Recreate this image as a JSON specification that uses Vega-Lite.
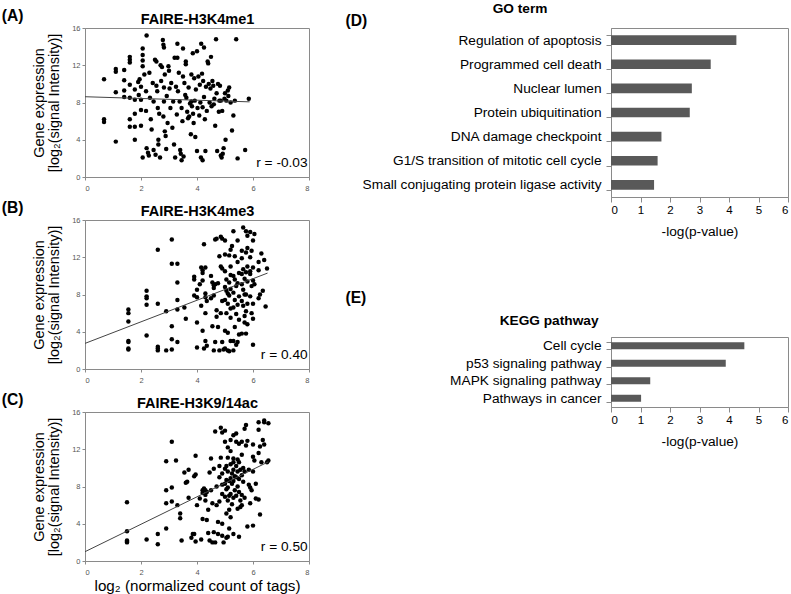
{
  "$schema": "https://vega.github.io/schema/vega-lite/v6.json",
  "padding": {"left": 0, "top": 0, "right": 0, "bottom": 0},
  "config": {
    "font": "Liberation Sans",
    "view": {"stroke": "#8a8a8a", "strokeWidth": 1},
    "axis": {"grid": false, "domainColor": "#8a8a8a", "tickColor": "#8a8a8a", "labelColor": "#000", "titleColor": "#000", "titleFontWeight": "normal"},
    "axisY": {"labelOverlap": false}
  },
  "datasets": {
    "A": [
      {"x":0.68,"y":10.5},{"x":0.68,"y":6.2},{"x":0.68,"y":5.9},
      {"x":1.1,"y":11.6},{"x":1.1,"y":11.3},{"x":1.1,"y":9.1},{"x":1.1,"y":3.8},
      {"x":1.4,"y":11.5},{"x":1.4,"y":10.4},{"x":1.4,"y":9.3},{"x":1.4,"y":8.6},
      {"x":1.6,"y":12.9},{"x":1.6,"y":12.6},{"x":1.6,"y":12.3},{"x":1.6,"y":9.9},{"x":1.6,"y":8.5},{"x":1.6,"y":6.2},{"x":1.6,"y":5.4},
      {"x":1.78,"y":9.4},{"x":1.78,"y":8.3},{"x":1.78,"y":6.8},{"x":1.78,"y":5.4},{"x":1.78,"y":4.0},
      {"x":1.9,"y":10.2},{"x":1.92,"y":8.8},{"x":1.95,"y":10.5},{"x":2.0,"y":9.7},{"x":2.0,"y":8.3},{"x":2.0,"y":7.2},{"x":2.0,"y":5.5},
      {"x":2.06,"y":13.8},{"x":2.06,"y":13.1},{"x":2.06,"y":12.5},{"x":2.06,"y":11.9},{"x":2.06,"y":2.1},
      {"x":2.12,"y":11.0},{"x":2.2,"y":15.2},{"x":2.18,"y":9.2},{"x":2.18,"y":7.1},{"x":2.2,"y":3.1},{"x":2.25,"y":2.6},{"x":2.28,"y":2.3},
      {"x":2.3,"y":11.2},{"x":2.32,"y":8.5},{"x":2.35,"y":6.2},{"x":2.38,"y":5.1},{"x":2.42,"y":10.1},{"x":2.45,"y":8.1},{"x":2.45,"y":2.9},
      {"x":2.5,"y":12.6},{"x":2.52,"y":2.4},{"x":2.55,"y":12.4},{"x":2.55,"y":9.8},{"x":2.58,"y":9.2},{"x":2.6,"y":7.4},{"x":2.62,"y":4.0},{"x":2.62,"y":3.5},
      {"x":2.65,"y":6.8},{"x":2.68,"y":2.1},{"x":2.7,"y":12.0},{"x":2.72,"y":10.3},{"x":2.75,"y":11.8},{"x":2.78,"y":14.7},{"x":2.8,"y":14.2},{"x":2.82,"y":13.9},
      {"x":2.8,"y":6.5},{"x":2.82,"y":9.6},{"x":2.82,"y":8.1},{"x":2.85,"y":4.9},{"x":2.85,"y":11.0},{"x":2.88,"y":4.4},{"x":2.9,"y":3.0},{"x":2.92,"y":8.7},
      {"x":2.95,"y":5.8},{"x":2.98,"y":11.9},{"x":3.0,"y":11.4},{"x":3.02,"y":9.5},{"x":3.05,"y":7.4},{"x":3.08,"y":10.1},{"x":3.12,"y":5.3},{"x":3.15,"y":8.1},
      {"x":3.18,"y":3.5},{"x":3.2,"y":12.8},{"x":3.22,"y":2.1},{"x":3.25,"y":9.7},{"x":3.28,"y":6.7},{"x":3.3,"y":12.8},{"x":3.3,"y":14.3},{"x":3.32,"y":9.2},
      {"x":3.35,"y":11.2},{"x":3.38,"y":8.1},{"x":3.4,"y":2.9},{"x":3.42,"y":2.5},{"x":3.45,"y":7.4},{"x":3.45,"y":1.8},{"x":3.48,"y":6.0},{"x":3.5,"y":13.8},
      {"x":3.5,"y":10.8},{"x":3.52,"y":2.2},{"x":3.55,"y":10.1},{"x":3.58,"y":8.8},{"x":3.6,"y":12.4},{"x":3.6,"y":12.1},{"x":3.62,"y":8.5},{"x":3.65,"y":7.0},
      {"x":3.68,"y":6.3},{"x":3.7,"y":9.6},{"x":3.72,"y":6.5},{"x":3.75,"y":7.9},{"x":3.78,"y":4.6},{"x":3.8,"y":8.1},{"x":3.8,"y":11.0},{"x":3.82,"y":7.6},
      {"x":3.85,"y":13.3},{"x":3.86,"y":6.8},{"x":3.88,"y":5.8},{"x":3.9,"y":10.6},{"x":3.92,"y":8.2},{"x":3.94,"y":4.3},{"x":3.96,"y":9.4},{"x":4.0,"y":13.5},
      {"x":4.0,"y":2.8},{"x":4.02,"y":7.4},{"x":4.05,"y":10.8},{"x":4.08,"y":6.6},{"x":4.1,"y":9.9},{"x":4.12,"y":8.0},{"x":4.14,"y":2.1},{"x":4.15,"y":14.3},
      {"x":4.18,"y":11.1},{"x":4.2,"y":1.8},{"x":4.2,"y":7.5},{"x":4.22,"y":10.3},{"x":4.25,"y":13.9},{"x":4.25,"y":8.6},{"x":4.28,"y":6.2},{"x":4.3,"y":2.8},
      {"x":4.32,"y":9.7},{"x":4.35,"y":7.1},{"x":4.38,"y":12.4},{"x":4.4,"y":12.2},{"x":4.42,"y":10.0},{"x":4.45,"y":8.0},{"x":4.48,"y":9.5},{"x":4.5,"y":12.9},
      {"x":4.52,"y":7.6},{"x":4.55,"y":10.3},{"x":4.58,"y":9.8},{"x":4.6,"y":7.8},{"x":4.62,"y":8.4},{"x":4.65,"y":5.5},{"x":4.68,"y":14.8},{"x":4.7,"y":9.0},
      {"x":4.72,"y":2.8},{"x":4.75,"y":10.0},{"x":4.78,"y":7.0},{"x":4.8,"y":8.2},{"x":4.82,"y":9.8},{"x":4.85,"y":2.3},{"x":4.85,"y":8.2},{"x":4.88,"y":2.1},
      {"x":4.9,"y":7.1},{"x":4.92,"y":2.5},{"x":4.95,"y":3.1},{"x":4.98,"y":8.4},{"x":5.0,"y":9.0},{"x":5.02,"y":4.0},{"x":5.05,"y":8.2},{"x":5.1,"y":9.3},
      {"x":5.12,"y":8.7},{"x":5.15,"y":9.6},{"x":5.2,"y":8.0},{"x":5.25,"y":5.0},{"x":5.3,"y":6.6},{"x":5.35,"y":8.2},{"x":5.4,"y":14.8},{"x":5.45,"y":2.0},
      {"x":5.72,"y":2.9},{"x":5.85,"y":8.4}
    ],
    "B": [
      {"x":1.55,"y":6.4},{"x":1.55,"y":6.0},{"x":1.55,"y":5.1},{"x":1.55,"y":3.0},{"x":1.55,"y":2.9},{"x":1.55,"y":2.2},{"x":1.55,"y":2.1},
      {"x":2.2,"y":8.4},{"x":2.2,"y":7.8},{"x":2.2,"y":7.6},{"x":2.2,"y":6.9},{"x":2.2,"y":3.6},
      {"x":2.6,"y":12.8},{"x":2.6,"y":7.0},{"x":2.6,"y":2.4},{"x":2.6,"y":2.2},{"x":2.6,"y":2.0},
      {"x":2.9,"y":6.2},{"x":2.9,"y":2.0},
      {"x":3.1,"y":13.9},{"x":3.1,"y":11.3},{"x":3.1,"y":4.6},{"x":3.1,"y":3.2},{"x":3.1,"y":2.1},
      {"x":3.3,"y":11.3},{"x":3.3,"y":9.3},{"x":3.3,"y":7.4},{"x":3.3,"y":6.4},{"x":3.3,"y":2.9},
      {"x":3.6,"y":5.4},{"x":3.55,"y":6.6},
      {"x":3.9,"y":9.9},{"x":3.9,"y":9.6},{"x":3.9,"y":7.9},
      {"x":4.0,"y":8.5},{"x":4.0,"y":7.7},{"x":4.0,"y":5.0},{"x":4.0,"y":2.3},
      {"x":4.15,"y":10.9},{"x":4.2,"y":10.6},{"x":4.3,"y":10.9},{"x":4.2,"y":10.3},{"x":4.2,"y":9.5},{"x":4.3,"y":8.1},{"x":4.3,"y":7.7},{"x":4.1,"y":9.1},
      {"x":4.15,"y":6.8},{"x":4.2,"y":4.1},{"x":4.25,"y":2.2},{"x":4.3,"y":6.0},{"x":4.35,"y":7.3},{"x":4.25,"y":13.4},{"x":4.3,"y":3.0},{"x":4.35,"y":2.5},
      {"x":4.5,"y":10.0},{"x":4.55,"y":9.3},{"x":4.6,"y":9.0},{"x":4.65,"y":9.1},{"x":4.6,"y":8.7},{"x":4.5,"y":7.6},{"x":4.6,"y":7.9},{"x":4.55,"y":4.6},
      {"x":4.65,"y":2.9},{"x":4.6,"y":2.0},{"x":4.7,"y":14.0},{"x":4.65,"y":13.9},{"x":4.75,"y":9.2},{"x":4.7,"y":6.3},{"x":4.7,"y":5.6},{"x":4.8,"y":12.1},
      {"x":4.75,"y":4.5},{"x":4.8,"y":2.0},{"x":4.85,"y":14.2},{"x":4.9,"y":14.0},{"x":4.9,"y":2.9},{"x":4.95,"y":2.1},{"x":4.9,"y":10.8},{"x":4.85,"y":11.0},
      {"x":4.9,"y":7.3},{"x":4.85,"y":6.0},
      {"x":5.0,"y":13.8},{"x":5.0,"y":12.3},{"x":5.0,"y":10.5},{"x":5.05,"y":9.6},{"x":5.0,"y":8.8},{"x":5.05,"y":8.4},{"x":5.1,"y":8.1},{"x":5.0,"y":7.4},
      {"x":5.1,"y":7.0},{"x":5.05,"y":6.0},{"x":5.0,"y":4.1},{"x":5.1,"y":3.9},{"x":5.0,"y":2.2},{"x":5.1,"y":2.0},{"x":5.15,"y":12.2},{"x":5.2,"y":11.0},
      {"x":5.2,"y":10.1},{"x":5.15,"y":9.3},{"x":5.2,"y":8.6},{"x":5.15,"y":7.9},{"x":5.2,"y":6.5},{"x":5.2,"y":5.5},{"x":5.2,"y":3.0},{"x":5.15,"y":1.9},
      {"x":5.2,"y":12.8},{"x":5.25,"y":13.2},
      {"x":5.3,"y":14.8},{"x":5.35,"y":12.1},{"x":5.3,"y":10.0},{"x":5.35,"y":9.6},{"x":5.3,"y":8.2},{"x":5.4,"y":8.9},{"x":5.35,"y":7.4},{"x":5.3,"y":6.6},
      {"x":5.4,"y":5.9},{"x":5.35,"y":4.5},{"x":5.3,"y":3.0},{"x":5.3,"y":2.0},{"x":5.45,"y":13.8},{"x":5.45,"y":11.5},{"x":5.5,"y":10.3},{"x":5.45,"y":9.2},
      {"x":5.5,"y":7.8},{"x":5.45,"y":6.9},{"x":5.5,"y":5.3},{"x":5.5,"y":3.7},{"x":5.4,"y":2.6},{"x":5.45,"y":2.9},
      {"x":5.65,"y":15.2},{"x":5.6,"y":12.7},{"x":5.6,"y":11.9},{"x":5.65,"y":10.7},{"x":5.6,"y":10.2},{"x":5.7,"y":9.7},{"x":5.6,"y":9.1},{"x":5.65,"y":8.5},
      {"x":5.7,"y":8.0},{"x":5.6,"y":7.3},{"x":5.65,"y":6.8},{"x":5.7,"y":5.0},{"x":5.6,"y":3.8},{"x":5.75,"y":14.8},{"x":5.8,"y":14.3},{"x":5.8,"y":13.0},
      {"x":5.75,"y":12.5},{"x":5.8,"y":11.0},{"x":5.75,"y":10.4},{"x":5.8,"y":9.4},{"x":5.75,"y":8.0},{"x":5.8,"y":7.0},{"x":5.75,"y":6.2},{"x":5.8,"y":4.8},
      {"x":5.75,"y":3.8},{"x":5.7,"y":5.7},
      {"x":5.9,"y":14.7},{"x":5.95,"y":12.7},{"x":5.9,"y":12.0},{"x":6.0,"y":10.9},{"x":5.9,"y":10.5},{"x":6.0,"y":9.5},{"x":5.95,"y":8.9},{"x":5.9,"y":7.8},
      {"x":6.0,"y":7.0},{"x":5.95,"y":6.0},{"x":6.0,"y":5.4},{"x":6.0,"y":2.6},{"x":6.05,"y":14.5},{"x":6.0,"y":13.8},{"x":5.9,"y":10.2},{"x":6.05,"y":9.1},
      {"x":6.2,"y":11.5},{"x":6.2,"y":10.6},{"x":6.25,"y":8.0},{"x":6.2,"y":7.6},{"x":6.35,"y":8.4},{"x":6.45,"y":6.7},{"x":6.5,"y":10.8},{"x":6.3,"y":12.4},
      {"x":6.4,"y":11.7}
    ],
    "C": [
      {"x":1.5,"y":6.3},{"x":1.5,"y":3.2},{"x":1.5,"y":2.2},{"x":1.5,"y":2.1},{"x":1.5,"y":2.0},
      {"x":2.2,"y":2.3},{"x":2.6,"y":2.9},{"x":2.6,"y":1.8},
      {"x":2.9,"y":10.7},{"x":2.9,"y":7.6},{"x":2.9,"y":6.2},{"x":2.9,"y":3.5},
      {"x":3.1,"y":12.8},{"x":3.1,"y":7.9},{"x":3.1,"y":6.4},
      {"x":3.25,"y":10.8},{"x":3.3,"y":6.0},
      {"x":3.4,"y":5.1},{"x":3.4,"y":4.6},{"x":3.45,"y":2.2},
      {"x":3.55,"y":9.5},{"x":3.6,"y":8.4},{"x":3.65,"y":8.5},{"x":3.7,"y":9.8},{"x":3.7,"y":6.8},
      {"x":3.8,"y":2.5},{"x":3.85,"y":2.9},{"x":3.9,"y":9.1},{"x":3.95,"y":9.3},{"x":3.95,"y":11.3},{"x":3.9,"y":2.9},{"x":3.95,"y":2.1},
      {"x":4.0,"y":6.0},{"x":4.1,"y":6.7},{"x":4.2,"y":7.3},{"x":4.2,"y":7.6},{"x":4.25,"y":7.8},{"x":4.3,"y":7.6},{"x":4.35,"y":7.4},{"x":4.3,"y":7.1},
      {"x":4.2,"y":4.5},{"x":4.15,"y":2.3},{"x":4.35,"y":4.4},{"x":4.3,"y":6.5},{"x":4.4,"y":5.5},{"x":4.4,"y":3.0},{"x":4.45,"y":2.2},{"x":4.5,"y":11.0},
      {"x":4.45,"y":9.5},{"x":4.5,"y":7.6},{"x":4.55,"y":6.2},{"x":4.55,"y":2.0},{"x":4.6,"y":3.1},{"x":4.65,"y":2.0},{"x":4.6,"y":9.9},{"x":4.65,"y":13.9},
      {"x":4.7,"y":8.0},{"x":4.7,"y":6.0},{"x":4.75,"y":4.2},{"x":4.75,"y":2.9},{"x":4.8,"y":10.2},{"x":4.8,"y":9.0},{"x":4.8,"y":6.4},{"x":4.85,"y":14.3},
      {"x":4.85,"y":11.1},{"x":4.9,"y":13.8},{"x":4.9,"y":9.4},{"x":4.9,"y":8.2},{"x":4.9,"y":7.2},{"x":4.9,"y":4.0},{"x":4.9,"y":2.7},{"x":4.95,"y":2.0},
      {"x":5.0,"y":14.0},{"x":5.0,"y":12.8},{"x":5.05,"y":10.2},{"x":5.0,"y":9.9},{"x":5.05,"y":8.7},{"x":5.0,"y":8.3},{"x":5.05,"y":7.7},{"x":5.0,"y":6.9},
      {"x":5.05,"y":5.1},{"x":5.05,"y":2.5},{"x":5.1,"y":2.6},{"x":5.1,"y":12.2},{"x":5.1,"y":11.1},{"x":5.1,"y":9.6},{"x":5.15,"y":8.6},{"x":5.1,"y":7.9},
      {"x":5.15,"y":7.0},{"x":5.1,"y":6.5},{"x":5.15,"y":5.5},{"x":5.15,"y":3.5},{"x":5.2,"y":13.0},{"x":5.2,"y":11.8},{"x":5.2,"y":10.4},{"x":5.25,"y":9.4},
      {"x":5.2,"y":8.9},{"x":5.25,"y":8.3},{"x":5.2,"y":7.2},{"x":5.25,"y":6.1},{"x":5.2,"y":4.7},{"x":5.3,"y":13.5},{"x":5.3,"y":11.0},{"x":5.3,"y":10.6},
      {"x":5.3,"y":9.8},{"x":5.35,"y":9.1},{"x":5.3,"y":8.6},{"x":5.35,"y":7.6},{"x":5.3,"y":6.8},{"x":5.3,"y":2.9},
      {"x":5.4,"y":13.7},{"x":5.4,"y":12.8},{"x":5.45,"y":10.9},{"x":5.4,"y":10.2},{"x":5.45,"y":9.6},{"x":5.4,"y":9.0},{"x":5.45,"y":8.0},{"x":5.4,"y":7.0},
      {"x":5.45,"y":5.6},{"x":5.5,"y":12.6},{"x":5.5,"y":10.6},{"x":5.55,"y":9.8},{"x":5.5,"y":8.8},{"x":5.5,"y":7.4},{"x":5.55,"y":6.5},{"x":5.55,"y":5.8},
      {"x":5.6,"y":12.8},{"x":5.6,"y":11.4},{"x":5.65,"y":10.0},{"x":5.6,"y":9.2},{"x":5.65,"y":8.5},{"x":5.6,"y":7.1},{"x":5.6,"y":6.0},{"x":5.5,"y":2.6},
      {"x":5.7,"y":9.6},{"x":5.75,"y":12.4},{"x":5.75,"y":14.6},{"x":5.7,"y":14.2},{"x":5.7,"y":6.8},
      {"x":5.8,"y":12.9},{"x":5.85,"y":8.2},{"x":5.85,"y":9.8},{"x":5.8,"y":3.7},{"x":5.9,"y":7.9},{"x":5.9,"y":6.2},{"x":5.95,"y":7.6},{"x":6.0,"y":12.5},
      {"x":6.0,"y":11.2},{"x":6.0,"y":3.8},{"x":6.1,"y":6.7},{"x":6.1,"y":8.3},{"x":6.05,"y":10.8},{"x":6.0,"y":9.6},
      {"x":6.2,"y":14.9},{"x":6.2,"y":14.1},{"x":6.25,"y":12.3},{"x":6.2,"y":11.6},{"x":6.2,"y":6.6},{"x":6.25,"y":5.0},{"x":6.3,"y":10.6},{"x":6.4,"y":15.1},
      {"x":6.4,"y":14.9},{"x":6.4,"y":12.5},{"x":6.35,"y":13.0},{"x":6.55,"y":14.8},{"x":6.55,"y":10.8},{"x":6.5,"y":10.6}
    ],
    "lineA": [{"x":0,"y":8.62},{"x":5.88,"y":8.07}],
    "lineB": [{"x":0,"y":2.75},{"x":6.52,"y":10.3}],
    "lineC": [{"x":0,"y":1.0},{"x":6.55,"y":10.65}],
    "go": [
      {"term":"Regulation of apoptosis","value":4.25},
      {"term":"Programmed cell death","value":3.38},
      {"term":"Nuclear lumen","value":2.74},
      {"term":"Protein ubiquitination","value":2.67},
      {"term":"DNA damage checkpoint","value":1.71},
      {"term":"G1/S transition of mitotic cell cycle","value":1.58},
      {"term":"Small conjugating protein ligase activity","value":1.46}
    ],
    "kegg": [
      {"term":"Cell cycle","value":4.52},
      {"term":"p53 signaling pathway","value":3.89},
      {"term":"MAPK signaling pathway","value":1.33},
      {"term":"Pathways in cancer","value":1.02}
    ]
  },
  "hconcat": [
    {
      "vconcat": [
        {
          "width": 224, "height": 149,
          "layer": [
            {"data": {"name": "A"}, "mark": {"type": "circle", "size": 20, "color": "#000", "opacity": 1},
             "encoding": {
               "x": {"field": "x", "type": "quantitative", "scale": {"domain": [0, 8], "nice": false}, "axis": {"values": [0,2,4,6,8], "labelFontSize": 7.5, "labelColor": "#555", "tickSize": 3, "labelPadding": 4, "labelOverlap": false, "title": null}},
               "y": {"field": "y", "type": "quantitative", "scale": {"domain": [0, 16], "nice": false}, "axis": {"values": [0,4,8,12,16], "labelFontSize": 7.5, "labelColor": "#555", "tickSize": 3, "labelOverlap": false, "labelFlush": false, "title": ["Gene expression", "[log₂(signal Intensity)]"], "titleFontSize": 14.5, "titleLineHeight": 15, "titlePadding": 10}}}},
            {"data": {"name": "lineA"}, "mark": {"type": "line", "color": "#444", "strokeWidth": 1},
             "encoding": {
               "x": {"field": "x", "type": "quantitative", "axis": {"orient": "top", "labels": false, "ticks": false, "domain": false, "title": "FAIRE-H3K4me1", "titleFontSize": 14.5, "titleFontWeight": "bold", "titlePadding": 2}},
               "y": {"field": "y", "type": "quantitative", "axis": {"values": [0,4,8,12,16], "labelFontSize": 7.5, "labelColor": "#555", "tickSize": 3, "labelOverlap": false, "labelFlush": false, "title": ["Gene expression", "[log₂(signal Intensity)]"], "titleFontSize": 14.5, "titleLineHeight": 15, "titlePadding": 10}}}},
            {"data": {"values": [{}]}, "mark": {"type": "text", "text": "r = -0.03", "fontSize": 13.7, "align": "right", "baseline": "middle"},
             "encoding": {
               "x": {"datum": 7.95, "type": "quantitative", "axis": {"orient": "top", "labels": false, "ticks": false, "domain": false, "title": ["", "(A)"], "titleLineHeight": 6.5, "titleFontSize": 15.6, "titleFontWeight": "bold", "titleAlign": "left", "titleBaseline": "alphabetic", "titleX": -83.7, "titleY": -14.5}},
               "y": {"datum": 1.45, "type": "quantitative", "axis": {"values": [0,4,8,12,16], "labelFontSize": 7.5, "labelColor": "#555", "tickSize": 3, "labelOverlap": false, "labelFlush": false, "title": ["Gene expression", "[log₂(signal Intensity)]"], "titleFontSize": 14.5, "titleLineHeight": 15, "titlePadding": 10}}}}
          ],
          "resolve": {"axis": {"x": "independent"}}
        },
        {
          "width": 224, "height": 149,
          "layer": [
            {"data": {"name": "B"}, "mark": {"type": "circle", "size": 20, "color": "#000", "opacity": 1},
             "encoding": {
               "x": {"field": "x", "type": "quantitative", "scale": {"domain": [0, 8], "nice": false}, "axis": {"values": [0,2,4,6,8], "labelFontSize": 7.5, "labelColor": "#555", "tickSize": 3, "labelPadding": 4, "labelOverlap": false, "title": null}},
               "y": {"field": "y", "type": "quantitative", "scale": {"domain": [0, 16], "nice": false}, "axis": {"values": [0,4,8,12,16], "labelFontSize": 7.5, "labelColor": "#555", "tickSize": 3, "labelOverlap": false, "labelFlush": false, "title": ["Gene expression", "[log₂(signal Intensity)]"], "titleFontSize": 14.5, "titleLineHeight": 15, "titlePadding": 10}}}},
            {"data": {"name": "lineB"}, "mark": {"type": "line", "color": "#444", "strokeWidth": 1},
             "encoding": {
               "x": {"field": "x", "type": "quantitative", "axis": {"orient": "top", "labels": false, "ticks": false, "domain": false, "title": "FAIRE-H3K4me3", "titleFontSize": 14.5, "titleFontWeight": "bold", "titlePadding": 2}},
               "y": {"field": "y", "type": "quantitative", "axis": {"values": [0,4,8,12,16], "labelFontSize": 7.5, "labelColor": "#555", "tickSize": 3, "labelOverlap": false, "labelFlush": false, "title": ["Gene expression", "[log₂(signal Intensity)]"], "titleFontSize": 14.5, "titleLineHeight": 15, "titlePadding": 10}}}},
            {"data": {"values": [{}]}, "mark": {"type": "text", "text": "r = 0.40", "fontSize": 13.7, "align": "right", "baseline": "middle"},
             "encoding": {
               "x": {"datum": 7.95, "type": "quantitative", "axis": {"orient": "top", "labels": false, "ticks": false, "domain": false, "title": "(B)", "titleFontSize": 15.6, "titleFontWeight": "bold", "titleAlign": "left", "titleBaseline": "alphabetic", "titleX": -83.7, "titleY": -8}},
               "y": {"datum": 1.45, "type": "quantitative", "axis": {"values": [0,4,8,12,16], "labelFontSize": 7.5, "labelColor": "#555", "tickSize": 3, "labelOverlap": false, "labelFlush": false, "title": ["Gene expression", "[log₂(signal Intensity)]"], "titleFontSize": 14.5, "titleLineHeight": 15, "titlePadding": 10}}}}
          ],
          "resolve": {"axis": {"x": "independent"}}
        },
        {
          "width": 224, "height": 149,
          "layer": [
            {"data": {"name": "C"}, "mark": {"type": "circle", "size": 20, "color": "#000", "opacity": 1},
             "encoding": {
               "x": {"field": "x", "type": "quantitative", "scale": {"domain": [0, 8], "nice": false}, "axis": {"values": [0,2,4,6,8], "labelFontSize": 7.5, "labelColor": "#555", "tickSize": 3, "labelPadding": 4, "labelOverlap": false, "title": "log₂ (normalized count of tags)", "titleFontSize": 15.2, "titlePadding": 3}},
               "y": {"field": "y", "type": "quantitative", "scale": {"domain": [0, 16], "nice": false}, "axis": {"values": [0,4,8,12,16], "labelFontSize": 7.5, "labelColor": "#555", "tickSize": 3, "labelOverlap": false, "labelFlush": false, "title": ["Gene expression", "[log₂(signal Intensity)]"], "titleFontSize": 14.5, "titleLineHeight": 15, "titlePadding": 10}}}},
            {"data": {"name": "lineC"}, "mark": {"type": "line", "color": "#444", "strokeWidth": 1},
             "encoding": {
               "x": {"field": "x", "type": "quantitative", "axis": {"orient": "top", "labels": false, "ticks": false, "domain": false, "title": "FAIRE-H3K9/14ac", "titleFontSize": 14.5, "titleFontWeight": "bold", "titlePadding": 2}},
               "y": {"field": "y", "type": "quantitative", "axis": {"values": [0,4,8,12,16], "labelFontSize": 7.5, "labelColor": "#555", "tickSize": 3, "labelOverlap": false, "labelFlush": false, "title": ["Gene expression", "[log₂(signal Intensity)]"], "titleFontSize": 14.5, "titleLineHeight": 15, "titlePadding": 10}}}},
            {"data": {"values": [{}]}, "mark": {"type": "text", "text": "r = 0.50", "fontSize": 13.7, "align": "right", "baseline": "middle"},
             "encoding": {
               "x": {"datum": 7.95, "type": "quantitative", "axis": {"orient": "top", "labels": false, "ticks": false, "domain": false, "title": "(C)", "titleFontSize": 15.6, "titleFontWeight": "bold", "titleAlign": "left", "titleBaseline": "alphabetic", "titleX": -83.7, "titleY": -8}},
               "y": {"datum": 1.45, "type": "quantitative", "axis": {"values": [0,4,8,12,16], "labelFontSize": 7.5, "labelColor": "#555", "tickSize": 3, "labelOverlap": false, "labelFlush": false, "title": ["Gene expression", "[log₂(signal Intensity)]"], "titleFontSize": 14.5, "titleLineHeight": 15, "titlePadding": 10}}}}
          ],
          "resolve": {"axis": {"x": "independent"}}
        }
      ],
      "spacing": 7
    },
    {
      "vconcat": [
        {
          "width": 177, "height": 169,
          "data": {"name": "go"},
          "layer": [
            {"mark": {"type": "bar", "color": "#595959"},
             "encoding": {
               "y": {"field": "term", "type": "nominal", "sort": null, "scale": {"paddingInner": 0.6, "paddingOuter": 0.3},
                     "axis": {"title": "GO term", "titleAngle": 0, "titleFontSize": 13.7, "titleFontWeight": "bold", "titleAlign": "center", "titleBaseline": "alphabetic", "titleX": -91.5, "titleY": -16, "labelFontSize": 13.7, "labelColor": "#000", "labelLimit": 400, "tickSize": 5, "labelPadding": 5, "tickBand": "extent"}},
               "x": {"field": "value", "type": "quantitative", "scale": {"domain": [0, 6], "nice": false},
                     "axis": {"values": [0,1,2,3,4,5,6], "title": "-log(p-value)", "titleFontSize": 13.7, "labelFontSize": 11.5, "tickSize": 5, "titlePadding": 9}}}},
            {"mark": {"type": "bar", "color": "#595959", "opacity": 0},
             "encoding": {
               "y": {"field": "term", "type": "nominal", "sort": null},
               "x": {"field": "value", "type": "quantitative",
                     "axis": {"orient": "top", "labels": false, "ticks": false, "domain": false, "title": "(D)", "titleFontSize": 15.6, "titleFontWeight": "bold", "titleAlign": "left", "titleBaseline": "alphabetic", "titleX": -266, "titleY": -2.5}}}}
          ],
          "resolve": {"axis": {"x": "independent"}}
        },
        {
          "width": 177, "height": 70,
          "data": {"name": "kegg"},
          "layer": [
            {"mark": {"type": "bar", "color": "#595959"},
             "encoding": {
               "y": {"field": "term", "type": "nominal", "sort": null, "scale": {"paddingInner": 0.6, "paddingOuter": 0.3},
                     "axis": {"title": "KEGG pathway", "titleAngle": 0, "titleFontSize": 13.7, "titleFontWeight": "bold", "titleAlign": "right", "titleBaseline": "alphabetic", "titleX": -13, "titleY": -13, "labelFontSize": 13.7, "labelColor": "#000", "labelLimit": 400, "tickSize": 5, "labelPadding": 5, "tickBand": "extent"}},
               "x": {"field": "value", "type": "quantitative", "scale": {"domain": [0, 6], "nice": false},
                     "axis": {"values": [0,1,2,3,4,5,6], "title": "-log(p-value)", "titleFontSize": 13.7, "labelFontSize": 11.5, "tickSize": 5, "titlePadding": 9}}}},
            {"mark": {"type": "bar", "color": "#595959", "opacity": 0},
             "encoding": {
               "y": {"field": "term", "type": "nominal", "sort": null},
               "x": {"field": "value", "type": "quantitative",
                     "axis": {"orient": "top", "labels": false, "ticks": false, "domain": false, "title": "(E)", "titleFontSize": 15.6, "titleFontWeight": "bold", "titleAlign": "left", "titleBaseline": "alphabetic", "titleX": -266, "titleY": -35}}}}
          ],
          "resolve": {"axis": {"x": "independent"}}
        }
      ],
      "spacing": 50
    }
  ],
  "spacing": 34
}
